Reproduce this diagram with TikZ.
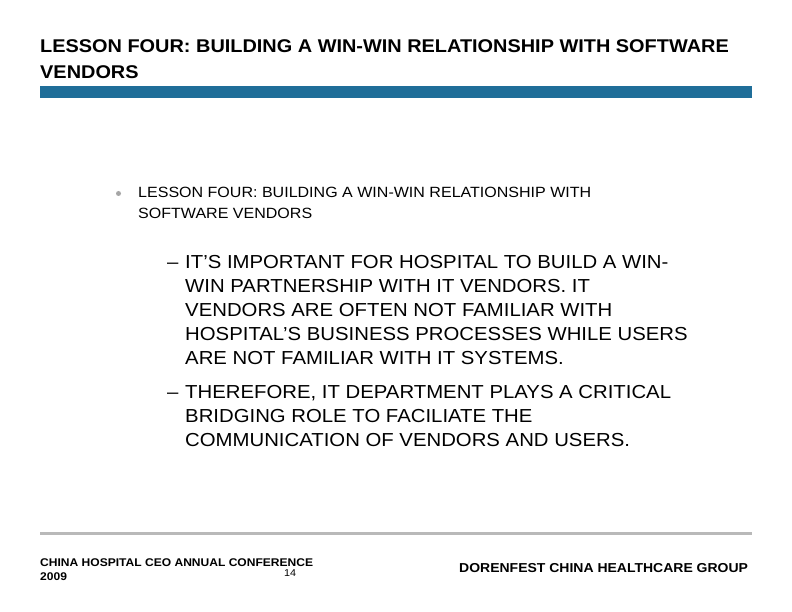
\documentclass[tikz,border=0pt]{standalone}
\usepackage{fontspec}
\setmainfont{Liberation Sans}
\begin{document}
\begin{tikzpicture}[x=1bp,y=-1bp,
  txt/.style={anchor=base west,inner sep=0pt,xscale=1.08,transform shape},
  ttl/.style={txt,font=\fontsize{18.5}{20}\selectfont\bfseries},
  sub/.style={txt,font=\fontsize{14.9}{17}\selectfont},
  body/.style={txt,font=\fontsize{18.9}{22}\selectfont},
  foot/.style={txt,font=\fontsize{11.2}{13}\selectfont\bfseries}]
\useasboundingbox[fill=white] (0,0) rectangle (792,612);
\node[ttl] (t1) at (40,53) {LESSON FOUR: BUILDING A WIN-WIN RELATIONSHIP WITH SOFTWARE};
\node[ttl] (t2) at (40,79) {VENDORS};
\fill[fill={rgb,255:red,31;green,110;blue,153}] (40,86) rectangle (752,98);
\fill[gray!70] (118.5,193.5) circle (2.5);
\node[sub] (s1) at (138,198) {LESSON FOUR: BUILDING A WIN-WIN RELATIONSHIP WITH};
\node[sub] (s2) at (138,219) {SOFTWARE VENDORS};
\node[body] (d1) at (167,268) {--};
\node[body] (b1) at (185,268) {IT’S IMPORTANT FOR HOSPITAL TO BUILD A WIN-};
\node[body] at (185,292) {WIN PARTNERSHIP WITH IT VENDORS. IT};
\node[body] at (185,316) {VENDORS ARE OFTEN NOT FAMILIAR WITH};
\node[body] at (185,340) {HOSPITAL’S BUSINESS PROCESSES WHILE USERS};
\node[body] at (185,364) {ARE NOT FAMILIAR WITH IT SYSTEMS.};
\node[body] (d2) at (167,398) {--};
\node[body] at (185,398) {THEREFORE, IT DEPARTMENT PLAYS A CRITICAL};
\node[body] at (185,422) {BRIDGING ROLE TO FACILIATE THE};
\node[body] at (185,446) {COMMUNICATION OF VENDORS AND USERS.};
\fill[gray!55] (40,532) rectangle (752,535);
\node[foot] (f1) at (40,566) {CHINA HOSPITAL CEO ANNUAL CONFERENCE};
\node[foot] (f2) at (40,580) {2009};
\node[txt,font=\fontsize{10}{12}\selectfont] (pg) at (284,576) {14};
\node[txt,font=\fontsize{13}{14}\selectfont\bfseries] (f3) at (459,572) {DORENFEST CHINA HEALTHCARE GROUP};
\end{tikzpicture}
\end{document}
